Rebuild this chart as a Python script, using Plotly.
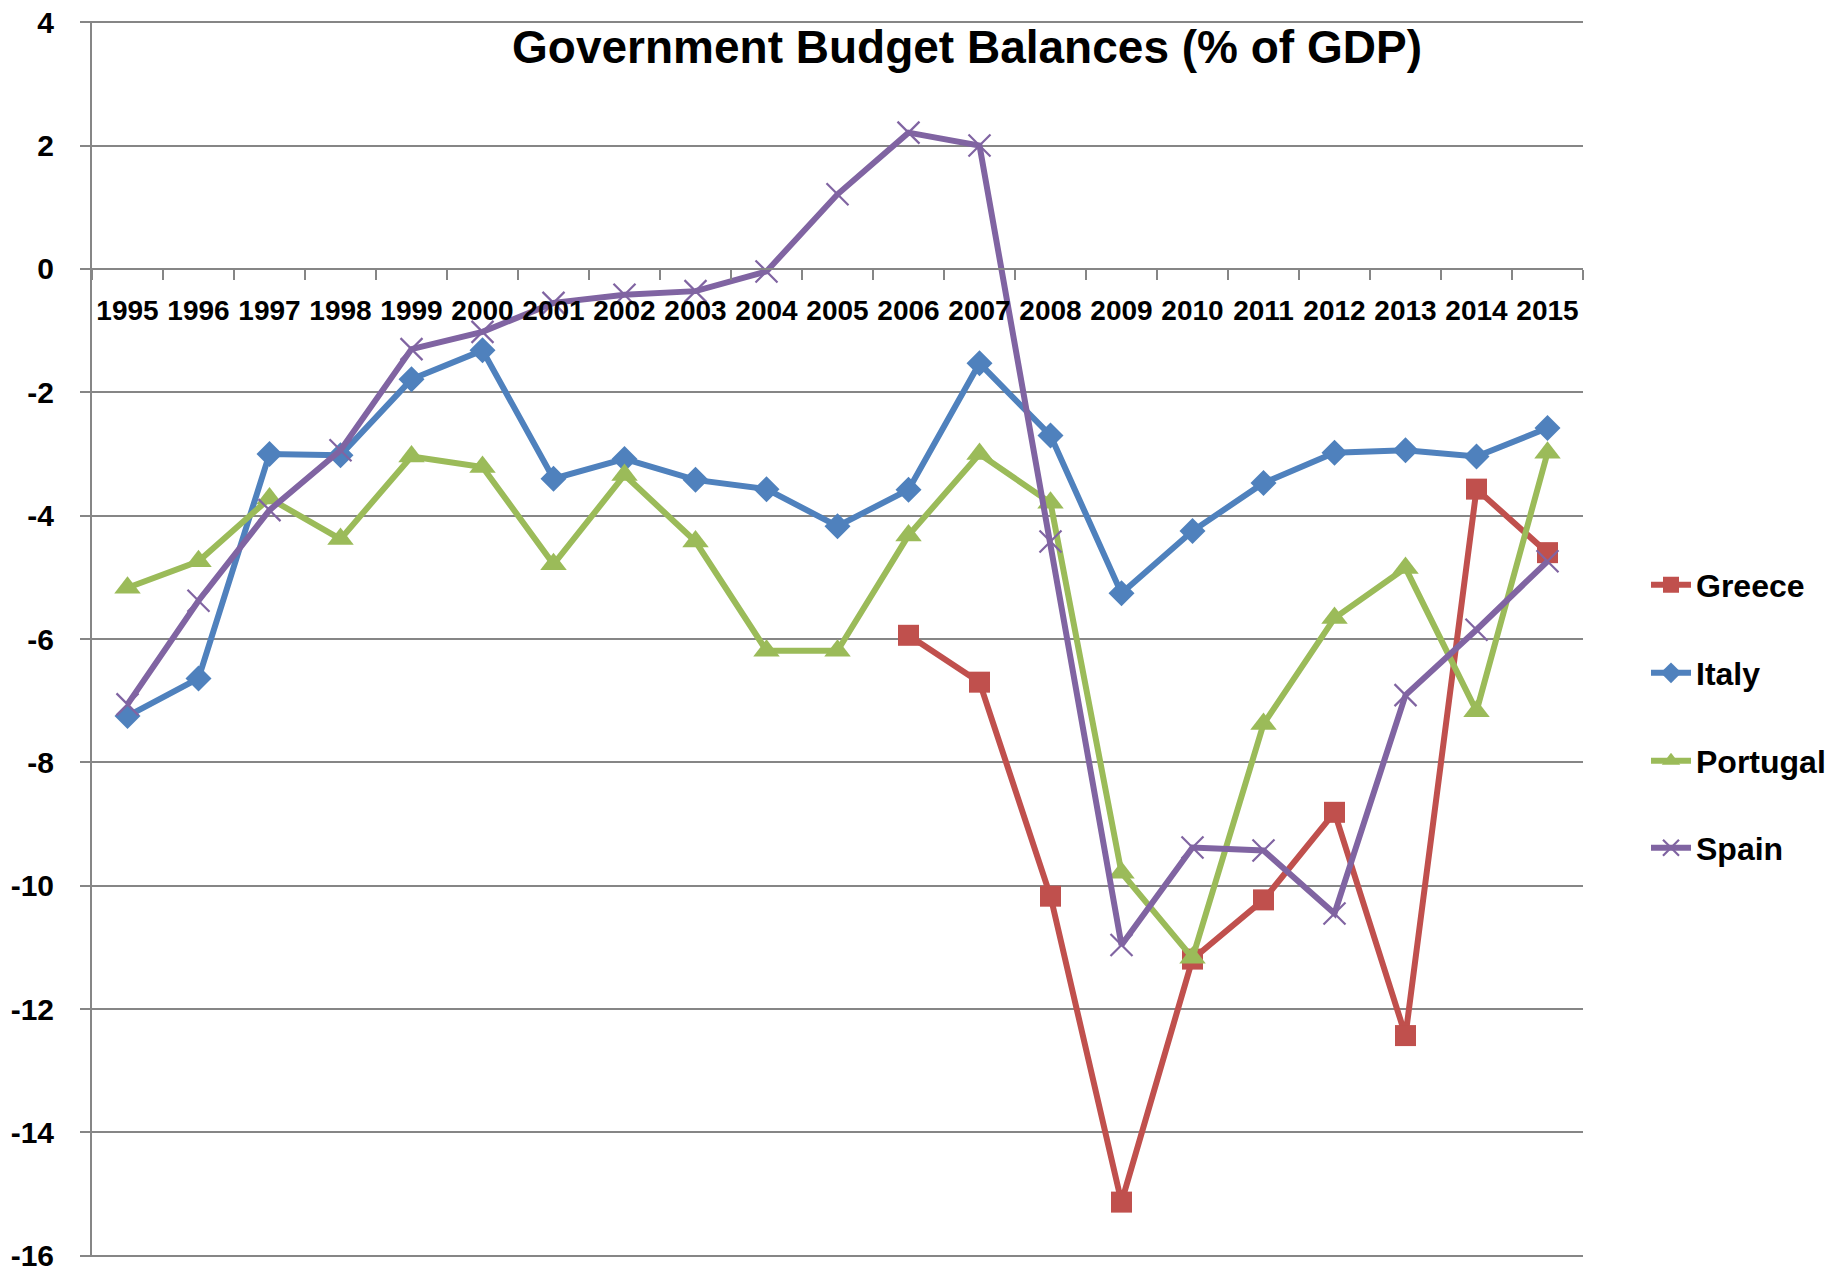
import plotly.graph_objects as go

years = [str(y) for y in range(1995, 2016)]
greece = [None]*11 + [-5.94, -6.70, -10.17, -15.13, -11.19, -10.23, -8.81, -12.43, -3.57, -4.60]
italy = [-7.25, -6.64, -3.00, -3.02, -1.79, -1.32, -3.40, -3.08, -3.42, -3.57, -4.17,
         -3.58, -1.53, -2.70, -5.26, -4.25, -3.47, -2.98, -2.94, -3.04, -2.58]
portugal = [-5.17, -4.74, -3.72, -4.38, -3.04, -3.21, -4.79, -3.34, -4.42, -6.19, -6.19,
            -4.32, -3.00, -3.79, -9.79, -11.17, -7.38, -5.66, -4.85, -7.17, -2.98]
spain = [-7.06, -5.38, -3.91, -2.94, -1.30, -1.02, -0.55, -0.42, -0.36, -0.04, 1.21,
         2.21, 2.00, -4.42, -10.96, -9.38, -9.43, -10.45, -6.91, -5.85, -4.74]
y_ticks = list(range(-16, 5, 2))
y_ticktext = [str(v) for v in y_ticks]  # plain hyphen minus

FONT = "Liberation Sans, Arial, sans-serif"
W, H = 1836, 1276
L, R, T, B = 92, 1583, 21, 1257

series = [
    ("Greece", greece, "#C0504D", dict(symbol="square", size=21)),
    ("Italy", italy, "#4F81BD", dict(symbol="diamond", size=20)),
    ("Portugal", portugal, "#9BBB59", dict(symbol="triangle-up", size=23)),
    ("Spain", spain, "#8064A2", dict(symbol="x-thin-open", size=22, line=dict(width=2.2))),
]
legend_y = [585, 673, 761, 848]

fig = go.Figure()
legends = {}
for i, (name, vals, col, mk) in enumerate(series):
    lname = "legend" if i == 0 else f"legend{i+1}"
    m = dict(mk)
    m["color"] = col
    if "line" in m:
        m["line"]["color"] = col
    fig.add_trace(go.Scatter(x=years, y=vals, name=name, mode="lines+markers",
                             line=dict(color=col, width=6), marker=m,
                             connectgaps=False, legend=lname))
    legends[lname] = dict(xref="container", yref="container", x=1646 / W,
                          y=1 - legend_y[i] / H, xanchor="left", yanchor="middle",
                          font=dict(family=FONT, size=32, color="black", weight="bold"),
                          bgcolor="rgba(0,0,0,0)", itemwidth=40)

fig.update_layout(
    width=W, height=H,
    margin=dict(l=L, r=W - R, t=T, b=H - B, autoexpand=False),
    plot_bgcolor="white", paper_bgcolor="white",
    showlegend=True,
    title=dict(text="<b>Government Budget Balances (% of GDP)</b>",
               x=967 / W, xanchor="center", y=1 - 47 / H, yanchor="middle",
               xref="container", yref="container",
               font=dict(family=FONT, size=46, color="black")),
    xaxis=dict(type="category", range=[-0.5, 20.5], anchor="free", position=16.02 / 20.04,
               showline=True, linecolor="#868686", linewidth=2,
               ticks="outside", tickson="boundaries", ticklen=10, tickwidth=2,
               tickcolor="#868686", showgrid=False, tickangle=0,
               tickfont=dict(family=FONT, size=28, color="black", weight="bold"),
               ticklabelstandoff=16),
    yaxis=dict(range=[-16.02, 4.02], tickvals=y_ticks, ticktext=y_ticktext,
               showline=True, linecolor="#868686",
               linewidth=2, ticks="outside", ticklen=10, tickwidth=2, tickcolor="#868686",
               showgrid=True, gridcolor="#868686", gridwidth=2, zeroline=False,
               ticklabeloverflow="allow",
               tickfont=dict(family=FONT, size=30, color="black", weight="bold"),
               ticklabelstandoff=20),
    **legends,
)
fig.write_html("out.html", config={"displayModeBar": False},
               post_script="document.body.style.margin='0px';")
